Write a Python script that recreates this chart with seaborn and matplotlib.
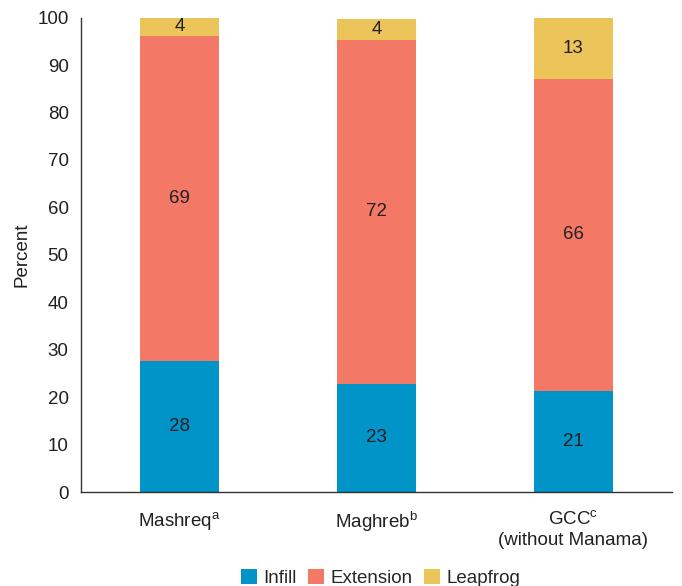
import matplotlib
matplotlib.use("Agg")
import matplotlib.pyplot as plt
import seaborn as sns
import pandas as pd
import numpy as np
from matplotlib.patches import Patch

# Share of urban expansion by type, per subregion (percent)
regions = ["Mashreq$^{\\mathrm{a}}$", "Maghreb$^{\\mathrm{b}}$", "GCC$^{\\mathrm{c}}$\n(without Manama)"]
infill = [27.6, 22.9, 21.3]
extension = [68.6, 72.4, 65.8]
leapfrog = [3.8, 4.4, 12.9]
series_names = ["Infill", "Extension", "Leapfrog"]
series_colors = ["#0094C8", "#F37966", "#EBC55A"]
yticks = [0, 10, 20, 30, 40, 50, 60, 70, 80, 90, 100]

FS = 13.5
TXT = "#231F20"

sns.set_style("white")
plt.rcParams["font.family"] = ["Liberation Sans", "DejaVu Sans"]
plt.rcParams["mathtext.fontset"] = "custom"
plt.rcParams["mathtext.rm"] = "Liberation Sans"
plt.rcParams["mathtext.it"] = "Liberation Sans:italic"

df = pd.DataFrame({"region": regions, "Infill": infill,
                   "Extension": extension, "Leapfrog": leapfrog})
layers = np.cumsum(df[series_names].to_numpy(), axis=1)

fig = plt.figure(figsize=(6.82, 5.86), dpi=100)
ax = fig.add_axes([0.119, 0.160, 0.866, 0.810])

# Draw cumulative totals from the top layer down so each segment shows its own colour
for i in reversed(range(len(series_names))):
    sns.barplot(x=df["region"], y=layers[:, i], color=series_colors[i],
                width=0.4, saturation=1, ax=ax, linewidth=0)

# Segment value labels
for r in range(len(regions)):
    base = 0.0
    for i, name in enumerate(series_names):
        v = df[name].iloc[r]
        ax.text(r, base + v / 2, f"{v:.0f}", ha="center", va="center",
                fontsize=FS, color=TXT)
        base += v

ax.set_ylim(0, 100)
ax.set_xlim(-0.5, len(regions) - 0.5)
ax.set_yticks(yticks)
ax.set_ylabel("Percent", fontsize=FS, color=TXT, labelpad=5)
ax.set_xlabel("")

# Tick marks at category boundaries, labels at category centres
ax.set_xticks(np.arange(-0.5, len(regions), 1.0))
ax.set_xticklabels([])
ax.set_xticks(np.arange(len(regions)), minor=True)
ax.set_xticklabels(regions, minor=True, fontsize=FS, color=TXT, linespacing=1.3)
ax.tick_params(axis="x", which="major", direction="out", length=6, width=1, color="#333333")
ax.tick_params(axis="x", which="minor", length=0, pad=13)
ax.tick_params(axis="y", direction="out", length=6, width=1, color="#333333",
               labelsize=FS, labelcolor=TXT, pad=3)

for s in ["top", "right"]:
    ax.spines[s].set_visible(False)
for s in ["left", "bottom"]:
    ax.spines[s].set_color("#333333")
    ax.spines[s].set_linewidth(1)

handles = [Patch(facecolor=c, edgecolor="none", label=n)
           for n, c in zip(series_names, series_colors)]
fig.legend(handles=handles, loc="lower center", bbox_to_anchor=(0.558, -0.03),
           ncol=3, frameon=False, fontsize=FS, handlelength=0.85, handleheight=0.85,
           handletextpad=0.35, columnspacing=0.6)

fig.savefig("out.png", dpi=100)
